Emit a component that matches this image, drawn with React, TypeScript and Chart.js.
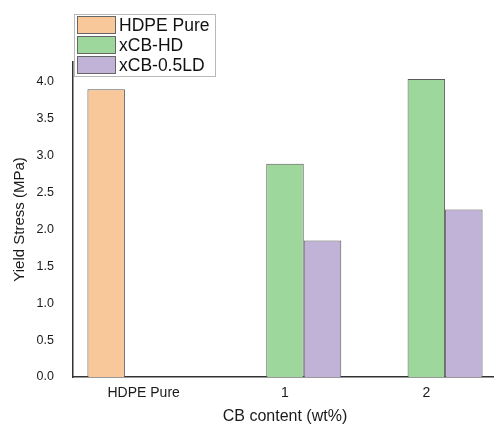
import React, { useEffect, useRef } from "react";
import { Chart, registerables } from "chart.js";

Chart.register(...registerables);

const categories = ["HDPE Pure", "1", "2"];
const seriesNames = ["HDPE Pure", "xCB-HD", "xCB-0.5LD"];
const hdpePure: (number | null)[] = [3.9, null, null];
const xcbHD: (number | null)[] = [null, 2.89, 4.04];
const xcb05LD: (number | null)[] = [null, 1.85, 2.27];
const seriesColors = ["#F9C89A", "#9DD79B", "#C1B2D8"];
const yMin = 0;
const yMax = 4.27;
const yStep = 0.5;
const yLabelMax = 4.0;

const FONT = "'Liberation Sans', Arial, sans-serif";

const legendPlugin = {
  id: "boxLegend",
  afterDraw(chart: any) {
    const ctx = chart.ctx;
    const left = 74.5;
    const top = 14.5;
    const w = 141;
    const h = 62;
    ctx.save();
    ctx.fillStyle = "#ffffff";
    ctx.fillRect(left, top, w, h);
    ctx.strokeStyle = "#b8b8b8";
    ctx.lineWidth = 1;
    ctx.strokeRect(left, top, w, h);
    ctx.font = `17.5px ${FONT}`;
    ctx.textBaseline = "middle";
    ctx.textAlign = "left";
    chart.data.datasets.forEach((ds: any, i: number) => {
      const y = 16 + i * 20;
      ctx.fillStyle = ds.backgroundColor;
      ctx.fillRect(77, y, 39, 18);
      ctx.strokeStyle = "#666";
      ctx.strokeRect(77.5, y + 0.5, 38, 17);
      ctx.fillStyle = "#111";
      ctx.fillText(ds.label, 119, y + 10);
    });
    ctx.restore();
  },
};

export default function App() {
  const ref = useRef<HTMLCanvasElement | null>(null);
  useEffect(() => {
    if (!ref.current) return;
    const chart = new Chart(ref.current, {
      type: "bar",
      data: {
        labels: categories,
        datasets: [hdpePure, xcbHD, xcb05LD].map((d, i) => ({
          label: seriesNames[i],
          data: d,
          backgroundColor: seriesColors[i],
          borderColor: "#5a5a5a",
          borderWidth: 1,
          barPercentage: 1,
          categoryPercentage: 0.796,
        })),
      },
      options: {
        animation: false,
        responsive: true,
        maintainAspectRatio: false,
        layout: { padding: { top: 62, right: 0, bottom: 0, left: 0 } },
        plugins: { legend: { display: false }, tooltip: { enabled: false } },
        scales: {
          x: {
            offset: true,
            grid: { display: false, drawTicks: false },
            border: { display: true, color: "#333", width: 1.5 },
            ticks: { color: "#1a1a1a", font: { family: FONT, size: 14 }, padding: 8, maxRotation: 0 },
            title: {
              display: true,
              text: "CB content (wt%)",
              color: "#1a1a1a",
              font: { family: FONT, size: 16, lineHeight: 1 },
              padding: { top: 0, bottom: 0 },
            },
            afterFit: (s: any) => {
              s.height = 48;
            },
          },
          y: {
            min: yMin,
            max: yMax,
            grid: { display: false, drawTicks: false },
            border: { display: true, color: "#333", width: 1.5 },
            ticks: {
              stepSize: yStep,
              color: "#1a1a1a",
              font: { family: FONT, size: 12.5 },
              padding: 19,
              callback: (v: any) => Number(v).toFixed(1),
            },
            afterBuildTicks: (s: any) => {
              s.ticks = s.ticks.filter((t: any) => t.value <= yLabelMax + 1e-6);
            },
            title: {
              display: true,
              text: "Yield Stress (MPa)",
              color: "#1a1a1a",
              font: { family: FONT, size: 15, lineHeight: 1.2 },
              padding: { top: 10.5, bottom: 0 },
            },
            afterFit: (s: any) => {
              s.width = 73;
            },
          },
        },
      },
      plugins: [legendPlugin],
    });
    return () => chart.destroy();
  }, []);
  return (
    <div
      style={{
        position: "fixed",
        left: 0,
        top: 0,
        width: 494,
        height: 425,
        overflow: "hidden",
        background: "#fff",
      }}
    >
      <div style={{ position: "relative", width: 497, height: 425 }}>
        <canvas ref={ref} />
      </div>
    </div>
  );
}
